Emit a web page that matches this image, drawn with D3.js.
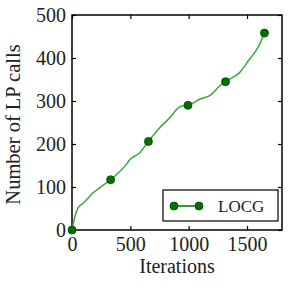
<!DOCTYPE html>
<html>
<head>
<meta charset="utf-8">
<script src="https://cdn.jsdelivr.net/npm/d3@7"></script>
<style>
  body { margin: 0; background: #fff; }
  text { font-family: "Liberation Serif", "DejaVu Serif", serif; }
</style>
</head>
<body>
<script>
// data
var iters = [0, 28, 51, 94, 137, 179, 250, 331, 393, 464, 493, 579, 655, 752, 852, 894, 937, 994, 1094, 1194, 1265, 1316, 1436, 1521, 1593, 1650];
var lpCalls = [0, 35, 51, 62, 74, 86, 101, 117, 132, 152, 163, 179, 206, 238, 265, 280, 288, 290, 304, 315, 335, 345, 366, 397, 424, 458];
var markerIters = [0, 331, 655, 994, 1316, 1650];
var markerCalls = [0, 117, 206, 290, 345, 458];
var xTicks = [0, 500, 1000, 1500];
var yTicks = [0, 100, 200, 300, 400, 500];

var margin = {top: 15, bottom: 61, left: 72, right: 9},
    width = 291 - margin.left - margin.right,
    height = 291 - margin.top - margin.bottom;

var svg = d3.select("body").append("svg")
    .attr("width", 291)
    .attr("height", 291)
    .append("g")
    .attr("transform", "translate(" + margin.left + "," + margin.top + ")");

var x = d3.scaleLinear().domain([0, 1800]).range([0, width]);
var y = d3.scaleLinear().domain([0, 500]).range([height, 0]);

// axes, ticks pointing inside
svg.append("g")
    .attr("transform", "translate(0," + height + ")")
    .call(d3.axisBottom(x).tickValues(xTicks).tickFormat(d3.format("d")).tickSizeInner(-4).tickSizeOuter(0).tickPadding(7))
    .call(function(g) { g.select(".domain").remove(); });
svg.append("g")
    .call(d3.axisTop(x).tickValues(xTicks).tickSizeInner(-4).tickSizeOuter(0).tickFormat(""))
    .call(function(g) { g.select(".domain").remove(); });
svg.append("g")
    .call(d3.axisLeft(y).tickValues(yTicks).tickSizeInner(-4).tickSizeOuter(0).tickPadding(6))
    .call(function(g) { g.select(".domain").remove(); });
svg.append("g")
    .attr("transform", "translate(" + width + ",0)")
    .call(d3.axisRight(y).tickValues(yTicks).tickSizeInner(-4).tickSizeOuter(0).tickFormat(""))
    .call(function(g) { g.select(".domain").remove(); });

svg.selectAll(".tick text")
    .style("font-size", "20px")
    .style("font-family", "Liberation Serif, serif")
    .attr("fill", "#222");
svg.selectAll(".tick line").attr("stroke", "#000").attr("stroke-width", 1.2);

svg.append("rect")
    .attr("width", width)
    .attr("height", height)
    .attr("fill", "none")
    .attr("stroke", "#000")
    .attr("stroke-width", 1.5);

// line
var pts = iters.map(function(d, i) { return [d, lpCalls[i]]; });
var line = d3.line()
    .x(function(d) { return x(d[0]); })
    .y(function(d) { return y(d[1]); })
    .curve(d3.curveMonotoneX);

svg.append("path")
    .datum(pts)
    .attr("d", line)
    .attr("fill", "none")
    .attr("stroke", "#3aaa3a")
    .attr("stroke-width", 1.5);

svg.selectAll(".mk")
    .data(markerIters)
    .enter().append("circle")
    .attr("cx", function(d) { return x(d); })
    .attr("cy", function(d, i) { return y(markerCalls[i]); })
    .attr("r", 4)
    .attr("fill", "#007000")
    .attr("stroke", "#004400")
    .attr("stroke-width", 0.8);

// legend
var lg = svg.append("g").attr("transform", "translate(" + (163 - margin.left) + "," + (190 - margin.top) + ")");
lg.append("rect")
    .attr("width", 115)
    .attr("height", 31)
    .attr("fill", "#fff")
    .attr("stroke", "#000")
    .attr("stroke-width", 1.2);
lg.append("line")
    .attr("x1", 11).attr("x2", 36)
    .attr("y1", 16).attr("y2", 16)
    .attr("stroke", "#007000")
    .attr("stroke-width", 1.5);
lg.selectAll(".lm")
    .data([11, 36])
    .enter().append("circle")
    .attr("cx", function(d) { return d; })
    .attr("cy", 16)
    .attr("r", 4)
    .attr("fill", "#007000")
    .attr("stroke", "#004400")
    .attr("stroke-width", 0.8);
lg.append("text")
    .attr("x", 55)
    .attr("y", 22)
    .style("font-size", "17px")
    .attr("fill", "#222")
    .text("LOCG");

// axis labels
svg.append("text")
    .attr("x", width / 2)
    .attr("y", height + 43)
    .attr("text-anchor", "middle")
    .style("font-size", "20px")
    .attr("fill", "#222")
    .text("Iterations");

svg.append("text")
    .attr("transform", "translate(" + (-52) + "," + (height / 2 + 2) + ") rotate(-90)")
    .attr("text-anchor", "middle")
    .style("font-size", "20.5px")
    .attr("fill", "#222")
    .text("Number of LP calls");
</script>
</body>
</html>
